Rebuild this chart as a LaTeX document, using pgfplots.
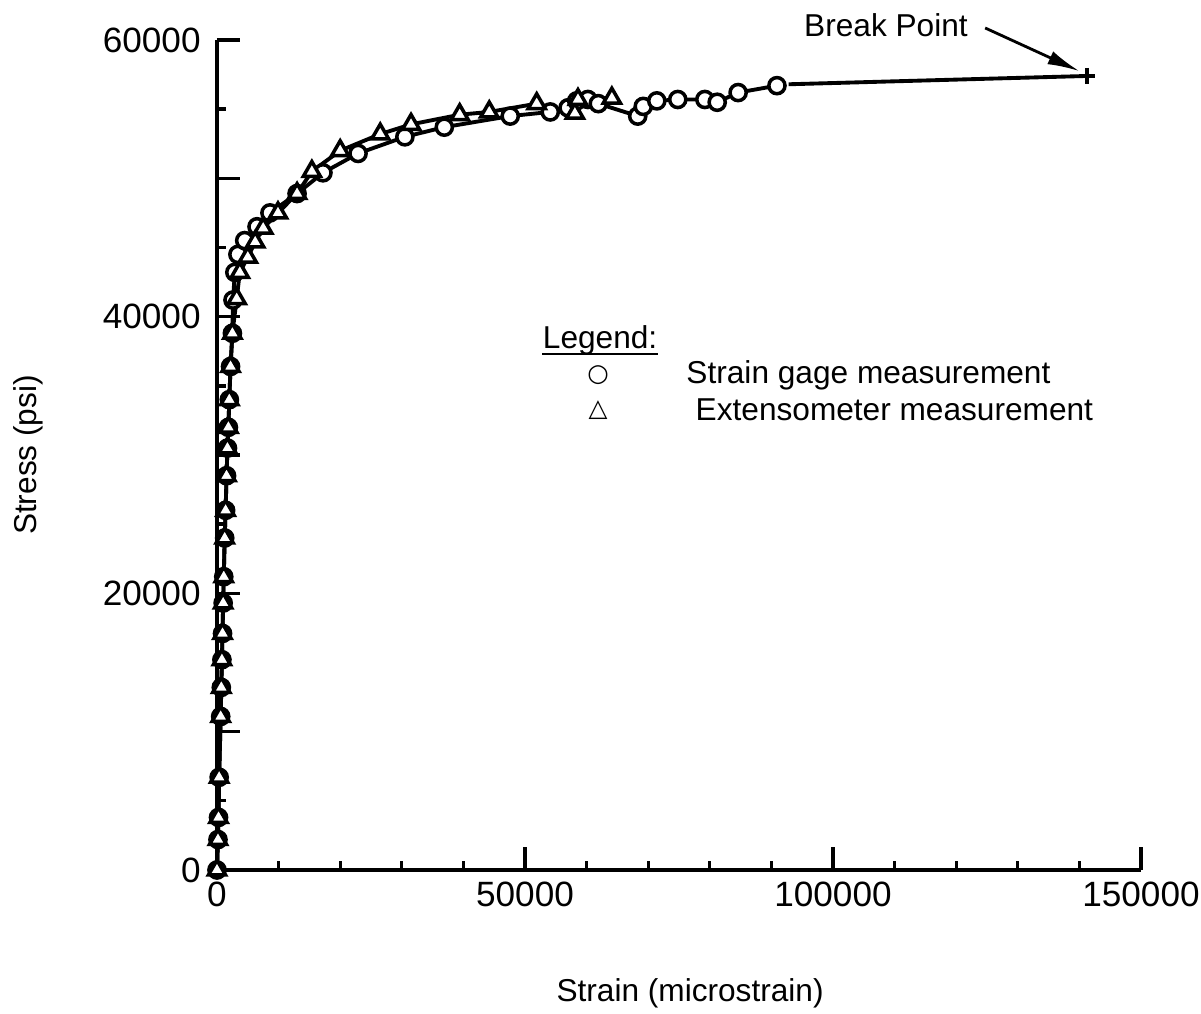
\documentclass[border=0pt]{standalone}
\usepackage{fontspec}
\setmainfont{Liberation Sans}
\newfontfamily\symfont{DejaVu Sans}
\usepackage{pgfplots}
\usepackage{pgfplotstable}
\pgfplotsset{compat=1.18}
\usetikzlibrary{arrows.meta}

% strain gage (circles)
\pgfplotstableread{
x y
0 0
160 2200
250 3800
350 6700
600 11100
700 13200
800 15200
900 17100
1000 19300
1100 21200
1250 24000
1400 26000
1550 28500
1700 30500
1850 32000
2000 34000
2200 36400
2500 38800
2600 41200
2900 43200
3400 44500
4500 45500
6500 46500
8600 47500
13000 48900
17200 50400
22900 51800
30500 53000
36900 53700
47600 54500
54100 54800
57000 55100
58400 55600
60200 55700
61900 55400
68300 54500
69200 55200
71400 55600
74800 55700
79200 55700
81200 55500
84600 56200
90900 56700
}\gagedata

% extensometer (triangles)
\pgfplotstableread{
x y
0 0
160 2200
250 3800
350 6700
600 11100
700 13200
800 15200
900 17100
1000 19300
1100 21200
1250 24000
1400 26000
1550 28500
1700 30500
1850 32000
2000 34000
2200 36400
2500 38800
3200 41300
3700 43200
5000 44300
6200 45400
7500 46400
9900 47500
13000 48900
15400 50500
20000 52000
26500 53200
31500 53900
39400 54600
44200 54800
51900 55400
58100 54700
58600 55700
64100 55800
}\extdata

\begin{document}
\begin{tikzpicture}
\useasboundingbox (-2.17,-1.44) rectangle (9.84,8.70);
\begin{axis}[
  at={(0,0)}, anchor=south west,
  scale only axis, width=9.24cm, height=8.30cm,
  xmin=0, xmax=150000, ymin=0, ymax=60000,
  axis x line=bottom, axis y line=left,
  axis line style={-, line width=0.95pt},
  xtick={0,50000,100000,150000},
  xticklabels={0,50000,100000,150000},
  minor xtick={10000,20000,...,140000},
  ytick={0,10000,...,60000},
  yticklabels={0,,20000,,40000,,60000},
  minor ytick={5000,15000,...,55000},
  tick align=inside,
  major tick length=2.3mm, minor tick length=0.9mm,
  tick style={line width=0.95pt, black},
  scaled ticks=false,
  ticklabel style={font=\fontsize{10}{12}\selectfont},
  yticklabel style={xshift=-0.4mm},
  clip=false,
  xlabel={Strain (microstrain)}, ylabel={Stress (psi)},
  label style={font=\fontsize{9}{11}\selectfont},
  xlabel style={at={(axis description cs:0.512,-0.148)}, anchor=center},
  ylabel style={at={(axis description cs:-0.2045,0.5)}, anchor=center},
]
\addplot[black, line width=1.1pt, mark=*, mark size=2.3pt,
  mark options={fill=white, line width=1.0pt}] table {\gagedata};
\addplot[black, line width=1.1pt, mark=triangle*, mark size=2.8pt,
  mark options={fill=white, line width=1.0pt}] table {\extdata};
% extension to break point
\addplot[black, line width=1.1pt, mark=+, mark size=2.3pt, mark indices={2},
  mark options={line width=1.0pt}]
  coordinates {(92800,56800) (141200,57400)};

\node[font=\fontsize{9}{11}\selectfont] at (axis cs:108600,61085) {Break Point};
\draw[line width=0.8pt, -{Latex[length=3.2mm, width=1.4mm]}]
  (axis cs:124700,60870) -- (axis cs:140000,57750);

% legend
\node[anchor=west, inner sep=0pt, font=\fontsize{9}{11}\selectfont] (leg)
  at (axis cs:52800,38300) {Legend:};
\draw[line width=0.6pt] ([yshift=-1.6pt]leg.base west) -- ([yshift=-1.6pt]leg.base east);
\node[font=\symfont\fontsize{7}{8}\selectfont] at (axis cs:61850,35780) {○};
\node[anchor=west, inner sep=0pt, font=\fontsize{9}{11}\selectfont] at (axis cs:76100,35780) {Strain gage measurement};
\node[font=\symfont\fontsize{7}{8}\selectfont] at (axis cs:61850,33250) {△};
\node[anchor=west, inner sep=0pt, font=\fontsize{9}{11}\selectfont] at (axis cs:77600,33250) {Extensometer measurement};
\end{axis}
\end{tikzpicture}
\end{document}
